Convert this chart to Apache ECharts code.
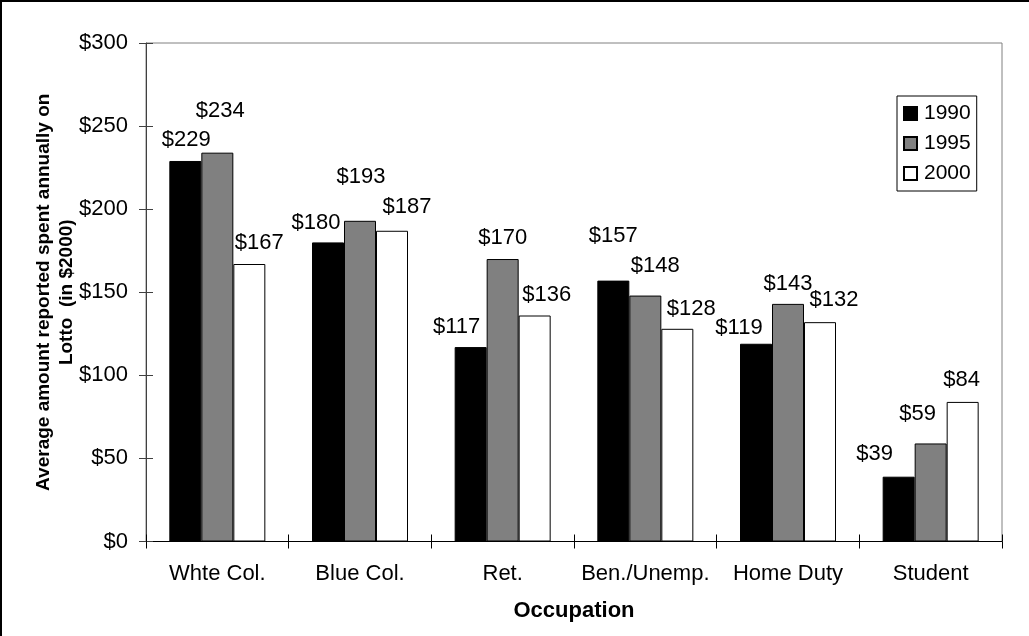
<!DOCTYPE html>
<html>
<head>
<meta charset="utf-8">
<script src="https://cdn.jsdelivr.net/npm/echarts@6/dist/echarts.min.js"></script>
<style>
  html, body { margin: 0; padding: 0; background: #fff; }
  #chart { width: 1029px; height: 636px; }
</style>
</head>
<body>
<div id="chart"></div>
<script>
// data
var occupations = ['Whte Col.', 'Blue Col.', 'Ret.', 'Ben./Unemp.', 'Home Duty', 'Student'];
var years = ['1990', '1995', '2000'];
var spend1990 = [229, 180, 117, 157, 119, 39];
var spend1995 = [234, 193, 170, 148, 143, 59];
var spend2000 = [167, 187, 136, 128, 132, 84];
var yTicks = [0, 50, 100, 150, 200, 250, 300];

// label nudges (Excel had the labels dragged around a bit)
var labelNudge = [
    [[1, 0], [-12, 2], [-14, 1], [0, -24], [-17, 5], [-24, -2]],
    [[3, -21], [1, -23], [0, 0], [10, -9], [0, 1], [-13, -9]],
    [[10, 0], [15, -3], [12, 0], [14, 1], [14, -1], [-1, -1]]
];

var font = '"Liberation Sans", Arial, sans-serif';
var fills = ['#000000', '#808080', '#ffffff'];
var allValues = [spend1990, spend1995, spend2000];

var mychart = echarts.init(document.getElementById('chart'));

function makeSeries(idx) {
    return {
        name: years[idx],
        type: 'bar',
        xAxisIndex: 0,
        yAxisIndex: 0,
        barWidth: 32,
        barGap: '0%',
        itemStyle: {color: fills[idx], borderColor: '#000', borderWidth: 1},
        label: {
            show: true,
            position: 'top',
            distance: 10,
            color: '#000',
            fontFamily: font,
            fontSize: 22,
            lineHeight: 22,
            formatter: function (p) { return '$' + p.value; }
        },
        data: allValues[idx].map(function (v, i) {
            return {value: v, label: {offset: labelNudge[idx][i]}};
        })
    };
}

var option = {
    animation: false,
    backgroundColor: '#fff',
    textStyle: {fontFamily: font},
    // chart-area frame, only top and left edges fall inside the picture
    graphic: [{
        type: 'rect',
        shape: {x: 1, y: 1, width: 1200, height: 900},
        style: {fill: 'none', stroke: '#000', lineWidth: 2},
        silent: true
    }],
    grid: {
        left: 146, right: 27, top: 43, bottom: 94.5,
        show: true, borderColor: '#808080', borderWidth: 1, backgroundColor: '#fff'
    },
    legend: {
        orient: 'vertical',
        left: 897, top: 96,
        padding: [7, 6, 7, 6],
        itemWidth: 13, itemHeight: 13, itemGap: 9,
        borderColor: '#000', borderWidth: 1,
        icon: 'rect',
        data: years,
        textStyle: {fontFamily: font, fontSize: 21, color: '#000', lineHeight: 21, padding: [0, 0, 0, 2]}
    },
    xAxis: [{
        type: 'category',
        data: occupations,
        position: 'bottom',
        name: 'Occupation',
        nameLocation: 'middle',
        nameGap: 58,
        nameMoveOverlap: false,
        nameTextStyle: {fontFamily: font, fontSize: 22, fontWeight: 'bold', color: '#000'},
        axisLine: {lineStyle: {color: '#000', width: 1}},
        axisTick: {show: true, inside: false, length: 7, lineStyle: {color: '#000'}},
        axisLabel: {fontFamily: font, fontSize: 22, color: '#000', margin: 21, interval: 0}
    }, {
        type: 'category',
        data: occupations,
        position: 'bottom',
        axisLine: {show: false},
        axisTick: {show: true, inside: true, length: 7, lineStyle: {color: '#000'}},
        axisLabel: {show: false}
    }],
    yAxis: [{
        type: 'value',
        min: yTicks[0],
        max: yTicks[yTicks.length - 1],
        interval: yTicks[1] - yTicks[0],
        position: 'left',
        name: 'Average amount reported spent annually on\nLotto  (in $2000)',
        nameLocation: 'middle',
        nameGap: 68,
        nameMoveOverlap: false,
        nameRotate: 90,
        nameTextStyle: {fontFamily: font, fontSize: 19, fontWeight: 'bold', color: '#000', lineHeight: 23, align: 'center'},
        splitLine: {show: false},
        axisLine: {show: true, lineStyle: {color: '#404040', width: 1}},
        axisTick: {show: true, inside: false, length: 7, lineStyle: {color: '#404040'}},
        axisLabel: {fontFamily: font, fontSize: 22, color: '#000', margin: 18,
            formatter: function (v) { return '$' + v; }}
    }, {
        type: 'value',
        min: yTicks[0],
        max: yTicks[yTicks.length - 1],
        interval: yTicks[1] - yTicks[0],
        position: 'left',
        splitLine: {show: false},
        axisLine: {show: false},
        axisTick: {show: true, inside: true, length: 7, lineStyle: {color: '#404040'}},
        axisLabel: {show: false}
    }],
    series: [makeSeries(0), makeSeries(1), makeSeries(2)]
};
mychart.setOption(option);
</script>
</body>
</html>
